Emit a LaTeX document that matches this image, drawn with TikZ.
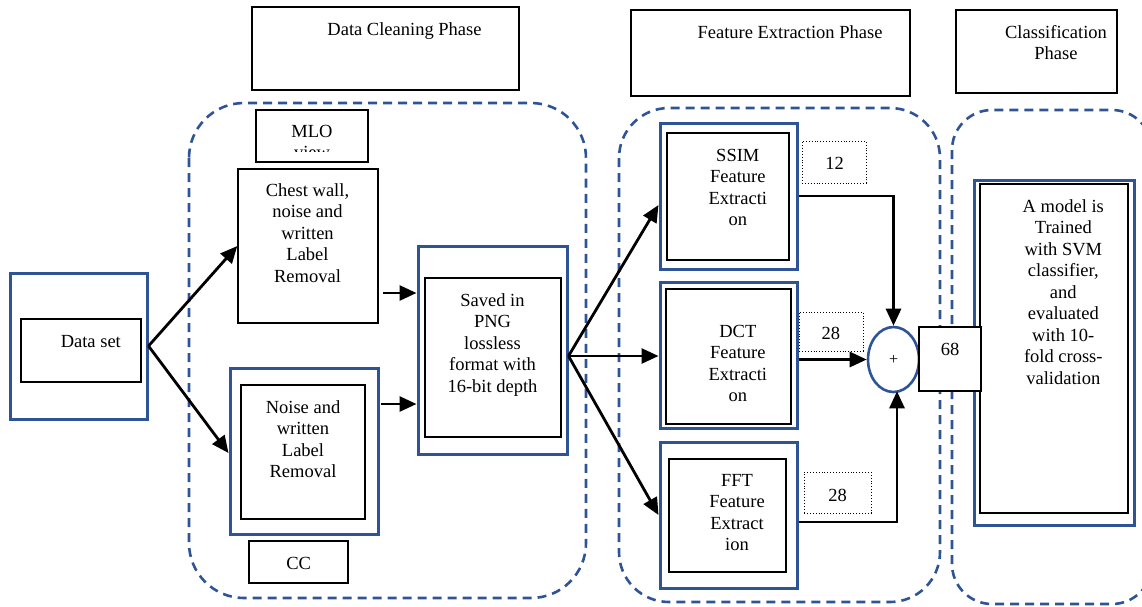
\documentclass[tikz,border=0pt]{standalone}
\usepackage{fontspec}
\setmainfont{Liberation Serif}
\usetikzlibrary{arrows.meta,shapes.geometric}
\definecolor{wblue}{RGB}{47,84,150}
\begin{document}
\begin{tikzpicture}[x=1pt,y=-1pt,
  every node/.style={font={\fontsize{18.5}{21.5}\selectfont}},
  bluebox/.style={draw=wblue,line width=3pt,fill=white,inner sep=0pt},
  blackbox/.style={draw=black,line width=1.4pt,inner sep=0pt},
  dotbox/.style={draw=black,line width=0.9pt,dotted,inner sep=0pt},
  dashbox/.style={draw=wblue,line width=2.6pt,dash pattern=on 9pt off 6pt},
  txt/.style={inner sep=0pt,align=center,anchor=north,execute at begin node={\rule{0pt}{13pt}}},
  arr/.style={draw=black,line width=2.8pt,-{Triangle[length=17pt,width=15pt]}},
  line/.style={draw=black,line width=2.8pt}
]
\useasboundingbox (0,0) rectangle (1142,606);

% phase containers
\draw[dashbox,rounded corners=55pt] (189,103) rectangle (586,598);
\draw[dashbox,rounded corners=50pt] (619,108) rectangle (940,602);
\draw[dashbox,rounded corners=40pt] (952,110) rectangle (1152,604);

% phase headers
\node[blackbox,minimum width=267,minimum height=83] (hdr1) at (385.5,48.5) {};
\node[txt] (hdr1t) at (404.5,22) {Data Cleaning Phase};
\node[blackbox,minimum width=279,minimum height=86] (hdr2) at (770.5,53) {};
\node[txt] (hdr2t) at (790,25) {Feature Extraction Phase};
\node[blackbox,minimum width=161,minimum height=83] (hdr3) at (1036.5,51.5) {};
\node[txt] (hdr3t) at (1056,25) {Classification\\Phase};

% data set
\node[bluebox,minimum width=137,minimum height=146] (dsout) at (78.5,346) {};
\node[blackbox,minimum width=120,minimum height=63] (dsin) at (81,350.5) {};
\node[txt] (dst) at (90.8,334) {Data set};

% data cleaning
\node[blackbox,minimum width=112,minimum height=52] (mlo) at (312,136) {};
\begin{scope}
  \clip (257,111) rectangle (367,151);
  \node[txt] (mlot) at (312,125) {MLO\\view};
\end{scope}
\node[blackbox,minimum width=140,minimum height=154] (chest) at (308,246) {};
\node[txt] (chestt) at (307.5,183) {Chest wall,\\noise and\\written\\Label\\Removal};
\node[bluebox,minimum width=148,minimum height=166] (noiseout) at (304,451) {};
\node[blackbox,minimum width=124,minimum height=134] (noisein) at (303,452) {};
\node[txt] (noiset) at (303,400) {Noise and\\written\\Label\\Removal};
\node[blackbox,minimum width=99,minimum height=42] (cc) at (298.5,562) {};
\node[txt] (cct) at (298.7,556) {CC};

\node[bluebox,minimum width=149,minimum height=208] (savedout) at (492.5,350) {};
\node[blackbox,minimum width=136,minimum height=159] (savedin) at (493,357.5) {};
\node[txt] (savedt) at (492.5,293) {Saved in\\PNG\\lossless\\format with\\16-bit depth};

% feature extraction
\node[bluebox,minimum width=137,minimum height=146] (ssimout) at (728.5,196) {};
\node[blackbox,minimum width=122,minimum height=127] (ssimin) at (728,196.5) {};
\node[txt] (ssimt) at (737.8,149) {SSIM\\Feature\\Extracti\\on};
\node[dotbox,minimum width=64,minimum height=42] (d12) at (834,162) {};
\node[txt] (d12t) at (834.5,156) {12};

\node[bluebox,minimum width=137,minimum height=146] (dctout) at (728.5,355) {};
\node[blackbox,minimum width=125,minimum height=135] (dctin) at (728.5,356.5) {};
\node[txt] (dctt) at (737.8,325) {DCT\\Feature\\Extracti\\on};
\node[dotbox,minimum width=64,minimum height=39] (d28a) at (831,331.5) {};
\node[txt] (d28at) at (830.8,326) {28};

\node[bluebox,minimum width=137,minimum height=146] (fftout) at (728.5,515) {};
\node[blackbox,minimum width=117,minimum height=113] (fftin) at (727.5,515.5) {};
\node[txt] (fftt) at (737,474) {FFT\\Feature\\Extract\\ion};
\node[dotbox,minimum width=67,minimum height=41] (d28b) at (837.5,492.5) {};
\node[txt] (d28bt) at (837.5,488) {28};

\node[ellipse,draw=wblue,line width=2.6pt,fill=white,minimum width=51,minimum height=65,inner sep=0pt,font={\fontsize{16}{18}\selectfont}] (circ) at (893.5,359.5) {+};

% classification
\node[bluebox,minimum width=160,minimum height=345] (clsout) at (1054,352.5) {};
\node[blackbox,minimum width=148,minimum height=329] (clsin) at (1054,348.5) {};
\node[txt] (clst) at (1063.3,199) {A model is\\Trained\\with SVM\\classifier,\\and\\evaluated\\with 10-\\fold cross-\\validation};

\node[blackbox,fill=white,minimum width=62,minimum height=64] (b68) at (950,359) {};
\node[txt] (b68t) at (950,342) {68};

% connectors
\coordinate (c1) at ([xshift=4pt,yshift=-47pt]chest.east);
\coordinate (c2) at ([xshift=1pt,yshift=47pt]noiseout.east);
\coordinate (c3) at ([yshift=-6pt]savedout.east);
\coordinate (c4) at ([yshift=-7pt]fftout.east);
\draw[arr] (dsout.east) -- (chest.west);
\draw[arr] (dsout.east) -- ([yshift=-2pt]noiseout.west);
\draw[arr] (c1) -- (c1 -| savedout.west);
\draw[arr] (c2) -- (c2 -| savedout.west);
\draw[arr] (c3) -- ([yshift=-9pt]ssimout.west);
\draw[arr] (c3) -- (c3 -| dctout.west);
\draw[arr] (c3) -- (fftout.west);
\draw[arr] (ssimout.east) -| (circ.north);
\draw[arr] (circ.west -| dctout.east) -- (circ.west);
\draw[arr] (c4) -| ([xshift=3.5pt,yshift=2pt]circ.south);
\end{tikzpicture}
\end{document}
